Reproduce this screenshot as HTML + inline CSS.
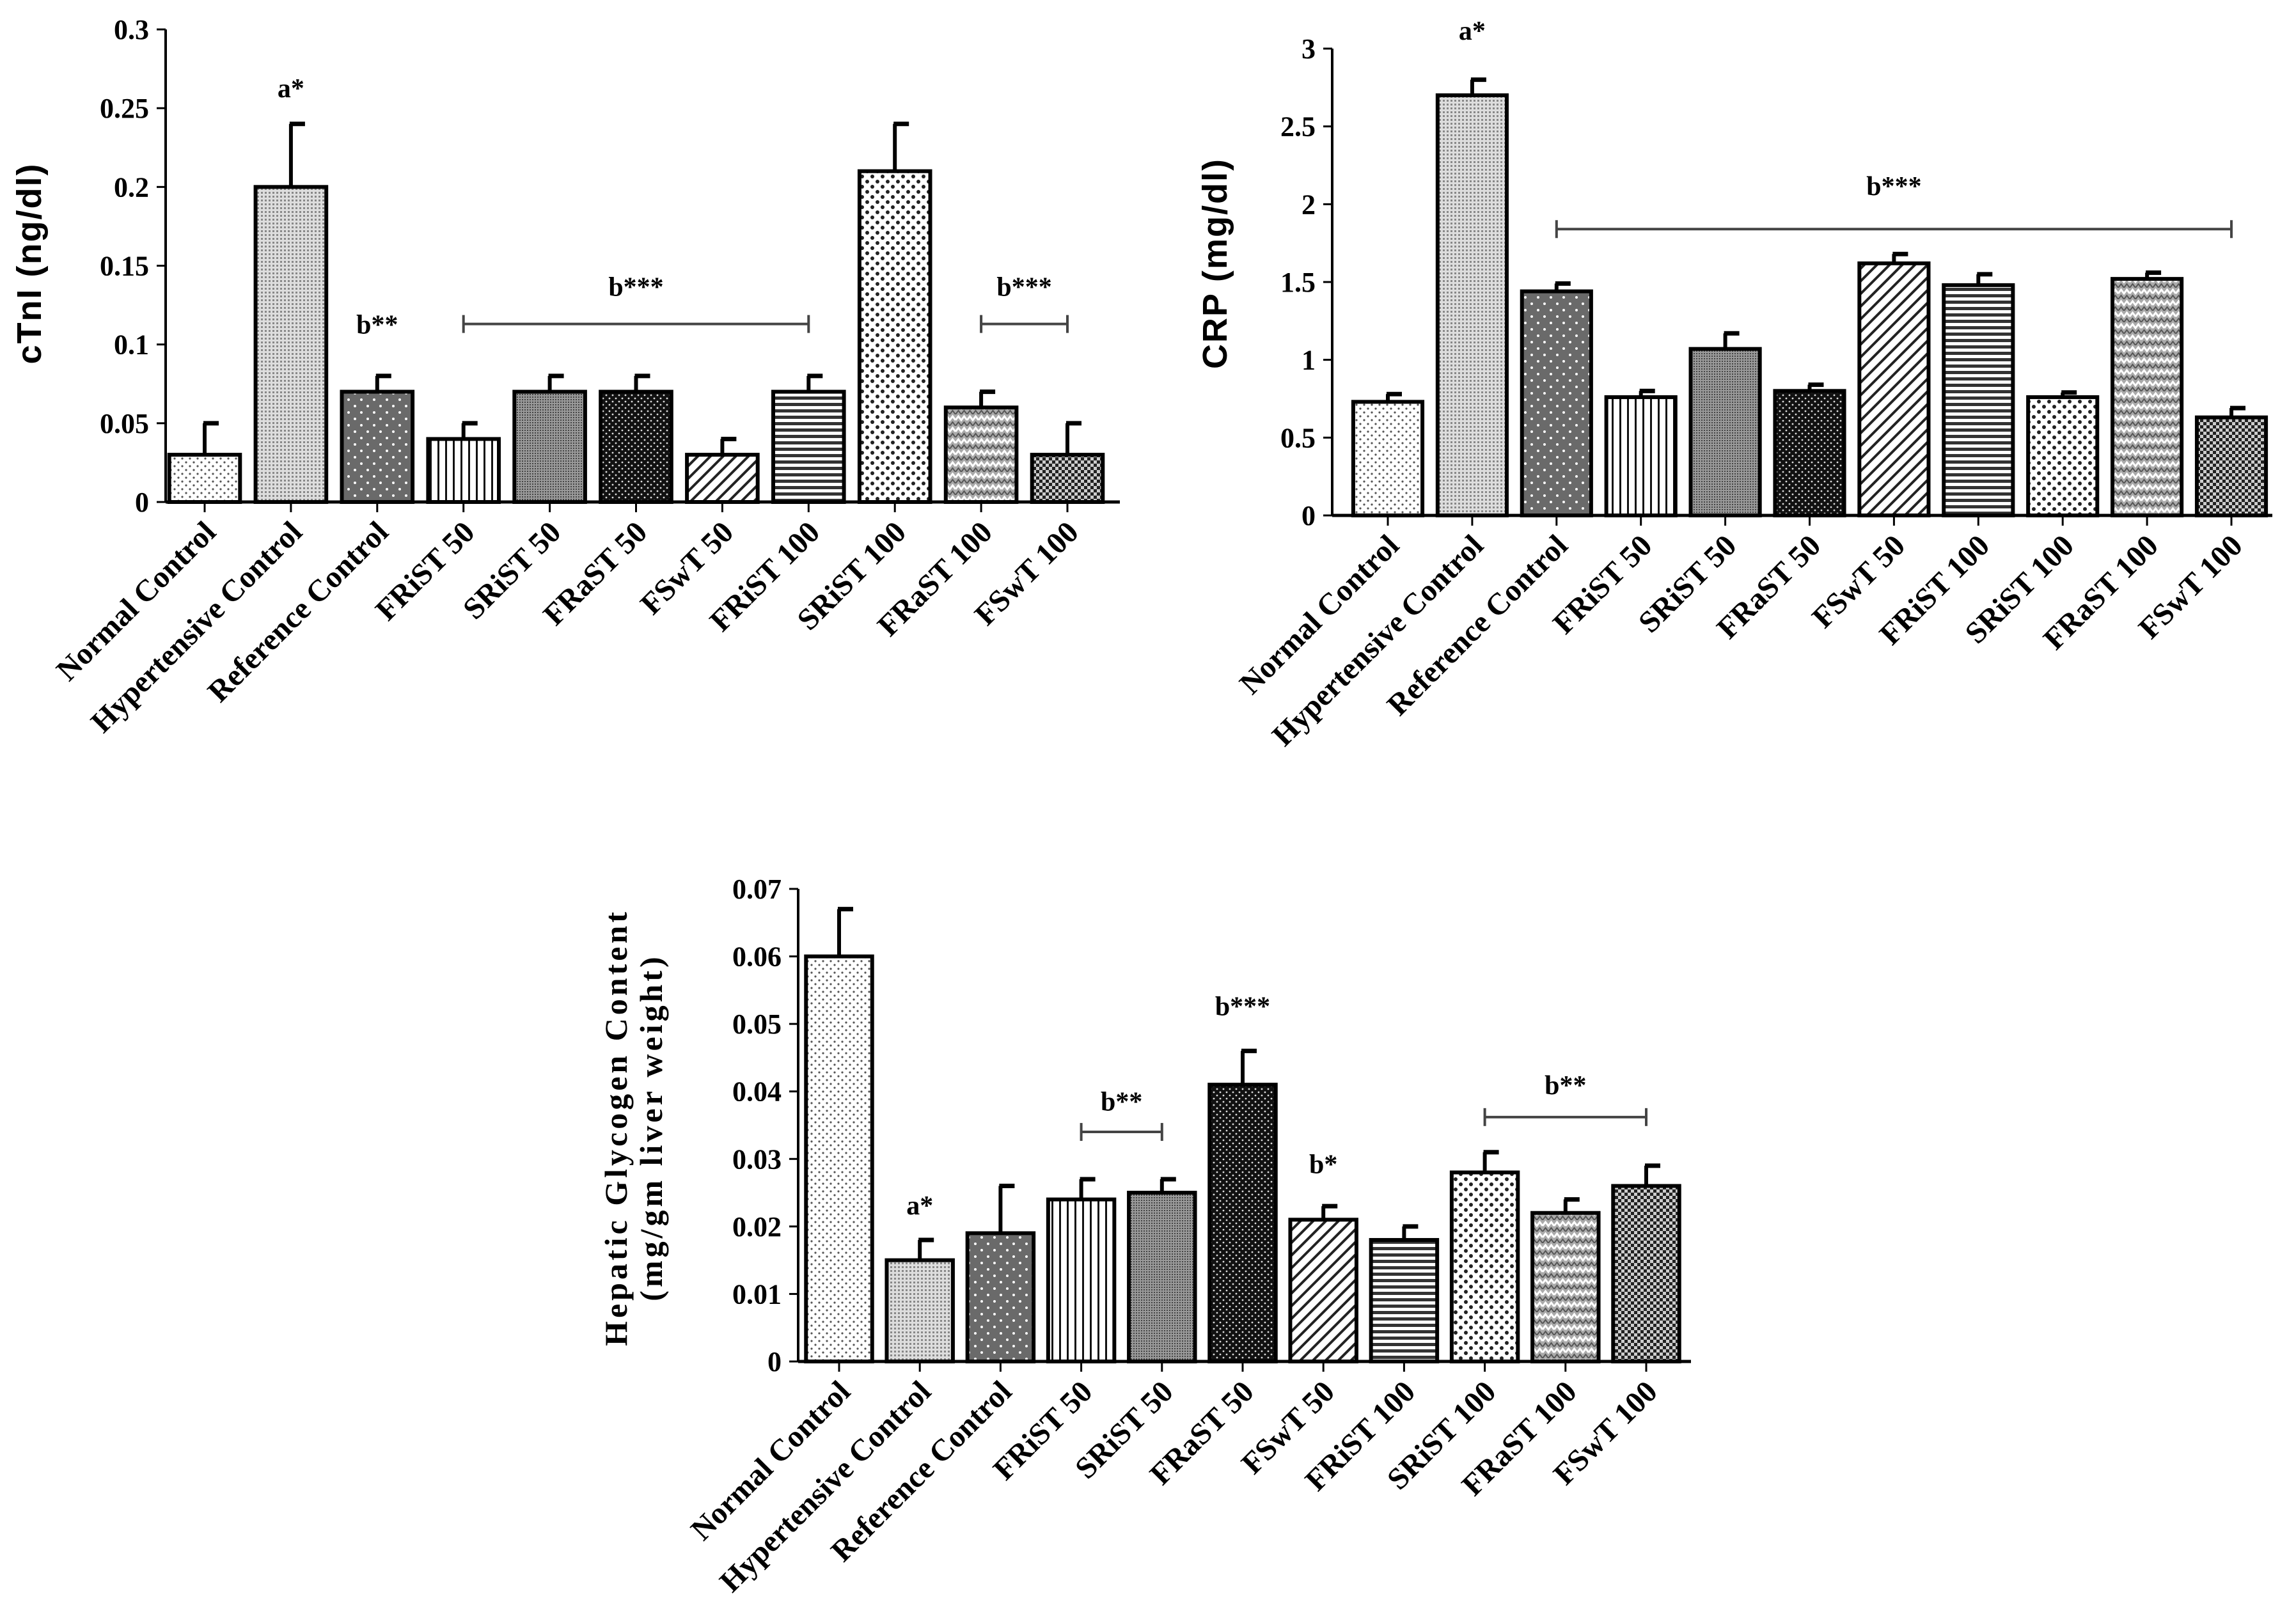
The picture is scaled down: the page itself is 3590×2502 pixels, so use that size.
<!DOCTYPE html>
<html><head><meta charset="utf-8"><style>
html,body{margin:0;padding:0;background:#fff;}
svg{display:block;font-family:"Liberation Serif",serif;font-weight:bold;}
</style></head><body>
<svg id="s" width="3590" height="2502" viewBox="0 0 3590 2502" xmlns="http://www.w3.org/2000/svg">
<defs>
<pattern id="p0" width="12" height="12" patternUnits="userSpaceOnUse"><rect width="12" height="12" fill="#fff"/><circle cx="3" cy="3" r="1.6" fill="#555"/><circle cx="9" cy="9" r="1.6" fill="#555"/></pattern>
<pattern id="p1" width="6" height="6" patternUnits="userSpaceOnUse"><rect width="6" height="6" fill="#ddd"/><rect width="3" height="3" fill="#888"/></pattern>
<pattern id="p2" width="20" height="20" patternUnits="userSpaceOnUse"><rect width="20" height="20" fill="#6a6a6a"/><circle cx="5" cy="5" r="2" fill="#fff"/><circle cx="15" cy="15" r="2" fill="#fff"/></pattern>
<pattern id="p3" width="12" height="12" patternUnits="userSpaceOnUse"><rect width="12" height="12" fill="#fff"/><rect x="0" width="3" height="12" fill="#111"/></pattern>
<pattern id="p4" width="4" height="4" patternUnits="userSpaceOnUse"><rect width="4" height="4" fill="#999"/><rect width="2" height="2" fill="#444"/></pattern>
<pattern id="p5" width="10" height="10" patternUnits="userSpaceOnUse"><rect width="10" height="10" fill="#111"/><circle cx="3" cy="3" r="1.4" fill="#ddd"/><circle cx="8" cy="8" r="1.4" fill="#ddd"/></pattern>
<pattern id="p6" width="14" height="14" patternUnits="userSpaceOnUse" patternTransform="rotate(45)"><rect width="14" height="14" fill="#fff"/><rect width="4" height="14" fill="#222"/></pattern>
<pattern id="p7" width="10" height="10" patternUnits="userSpaceOnUse"><rect width="10" height="10" fill="#fff"/><rect width="10" height="5" fill="#333"/></pattern>
<pattern id="p8" width="16" height="16" patternUnits="userSpaceOnUse"><rect width="16" height="16" fill="#fff"/><circle cx="4" cy="4" r="3" fill="#222"/><circle cx="12" cy="12" r="3" fill="#222"/></pattern>
<pattern id="p9" width="18" height="18" patternUnits="userSpaceOnUse"><rect width="18" height="18" fill="#aaa"/><path d="M0 9 L4.5 3 L9 9 L13.5 3 L18 9" stroke="#fff" stroke-width="3" fill="none"/><path d="M0 18 L4.5 12 L9 18 L13.5 12 L18 18" stroke="#555" stroke-width="2" fill="none"/></pattern>
<pattern id="p10" width="10" height="10" patternUnits="userSpaceOnUse"><rect width="10" height="10" fill="#222"/><rect width="5" height="5" fill="#ccc"/><rect x="5" y="5" width="5" height="5" fill="#ccc"/></pattern>
</defs>
</svg>
<script>
const categories = ["Normal Control","Hypertensive Control","Reference Control","FRiST 50","SRiST 50","FRaST 50","FSwT 50","FRiST 100","SRiST 100","FRaST 100","FSwT 100"];
const ctniValues = [0.03,0.2,0.07,0.04,0.07,0.07,0.03,0.07,0.21,0.06,0.03];
const ctniErrors = [0.02,0.04,0.01,0.01,0.01,0.01,0.01,0.01,0.03,0.01,0.02];
const ctniTicks = ["0","0.05","0.1","0.15","0.2","0.25","0.3"];
const crpValues = [0.73,2.70,1.44,0.76,1.07,0.80,1.62,1.48,0.76,1.52,0.63];
const crpErrors = [0.05,0.10,0.05,0.04,0.10,0.04,0.06,0.07,0.03,0.04,0.06];
const crpTicks = ["0","0.5","1","1.5","2","2.5","3"];
const glyValues = [0.060,0.015,0.019,0.024,0.025,0.041,0.021,0.018,0.028,0.022,0.026];
const glyErrors = [0.007,0.003,0.007,0.003,0.002,0.005,0.002,0.002,0.003,0.002,0.003];
const glyTicks = ["0","0.01","0.02","0.03","0.04","0.05","0.06","0.07"];

const NS="http://www.w3.org/2000/svg";
const svg=document.getElementById('s');
function mk(tag,attrs,parent){const e=document.createElementNS(NS,tag);for(const k in attrs)e.setAttribute(k,attrs[k]);(parent||svg).appendChild(e);return e;}

function drawChart(c){
  const g=mk('g',{});
  
  
  const ymax=parseFloat(c.ticks[c.ticks.length-1]);
  const y=v=>c.y0-(v/ymax)*(c.y0-c.ytop);
  const x=i=>c.x1+i*c.pitch;
  const bw=c.pitch*0.82;
  c.values.forEach((v,i)=>{
    const top=v+c.errors[i];
    const eb=mk('line',{x1:x(i),x2:x(i),y1:y(v),y2:y(top),stroke:'#000','stroke-width':6},g);
    
    
    const cap=mk('line',{x1:x(i)-2,x2:x(i)+22,y1:y(top),y2:y(top),stroke:'#000','stroke-width':7},g);
    
    
    const r=mk('rect',{x:x(i)-bw/2,y:y(v),width:bw,height:c.y0-y(v),fill:'url(#p'+i+')',stroke:'#000','stroke-width':6},g);
    
    
  });
  const ya=mk('line',{x1:c.ax,x2:c.ax,y1:c.ytop,y2:c.y0,stroke:'#000','stroke-width':4},g);
  
  
  const xa=mk('line',{x1:c.ax,x2:c.xend,y1:c.y0,y2:c.y0,stroke:'#000','stroke-width':5},g);
  
  
  c.ticks.forEach(t=>{
    const yy=y(parseFloat(t));
    mk('line',{x1:c.ax-14,x2:c.ax,y1:yy,y2:yy,stroke:'#000','stroke-width':3},g);
    const tx=mk('text',{x:c.ax-26,y:yy+15,'text-anchor':'end','font-size':44},g);
    tx.textContent=t;
    
    
  });
  categories.forEach((n,i)=>{
    mk('line',{x1:x(i),x2:x(i),y1:c.y0,y2:c.y0+16,stroke:'#000','stroke-width':3},g);
    const tx=mk('text',{x:0,y:0,'text-anchor':'end','font-size':48,transform:`translate(${x(i)+20},${c.y0+50}) rotate(-45)`},g);
    tx.textContent=n;
    
    
  });
  c.title.forEach((t,k)=>{
    const tx=mk('text',{x:0,y:0,'text-anchor':'middle','font-size':c.tsize,'font-family':c.tfont,'letter-spacing':c.tls,transform:`translate(${c.tx+k*c.tsize*1.1},${c.ty}) rotate(-90)`},g);
    tx.textContent=t;
    
    
  });
  c.notes.forEach(n=>{
    if(n.b!==undefined){
      const bl=mk('line',{x1:x(n.a),x2:x(n.b),y1:y(n.ly),y2:y(n.ly),stroke:'#444','stroke-width':4},g);
      
      
      mk('line',{x1:x(n.a),x2:x(n.a),y1:y(n.ly)-14,y2:y(n.ly)+14,stroke:'#444','stroke-width':4},g);
      mk('line',{x1:x(n.b),x2:x(n.b),y1:y(n.ly)-14,y2:y(n.ly)+14,stroke:'#444','stroke-width':4},g);
    }
    const cx=n.b!==undefined?(x(n.a)+x(n.b))/2:x(n.a);
    const tx=mk('text',{x:cx,y:y(n.ty)+15,'text-anchor':'middle','font-size':42},g);
    tx.textContent=n.t;
    
    
  });
}

drawChart({name:'ctni-chart',values:ctniValues,errors:ctniErrors,ticks:ctniTicks,ax:259,xend:1751,y0:785,ytop:46,x1:320,pitch:134.9,
  title:['cTnI (ng/dl)'],tx:64,ty:412,tsize:54,tfont:'"Liberation Sans",sans-serif',tls:2,
  notes:[{a:1,t:'a*',ty:0.263},{a:2,t:'b**',ty:0.113},{a:3,b:7,ly:0.113,t:'b***',ty:0.137},{a:9,b:10,ly:0.113,t:'b***',ty:0.137}]});
drawChart({name:'crp-chart',values:crpValues,errors:crpErrors,ticks:crpTicks,ax:2083,xend:3553,y0:806,ytop:76,x1:2170,pitch:131.9,
  title:['CRP (mg/dl)'],tx:1918,ty:412,tsize:54,tfont:'"Liberation Sans",sans-serif',tls:2,
  notes:[{a:1,t:'a*',ty:3.12},{a:2,b:10,ly:1.84,t:'b***',ty:2.12}]});
drawChart({name:'glycogen-chart',values:glyValues,errors:glyErrors,ticks:glyTicks,ax:1248,xend:2644,y0:2129,ytop:1390,x1:1312,pitch:126.2,
  title:['Hepatic Glycogen Content','(mg/gm liver weight)'],tx:980,ty:1763,tsize:50,tfont:'"Liberation Serif",serif',tls:5,
  notes:[{a:1,t:'a*',ty:0.0232},{a:3,b:4,ly:0.034,t:'b**',ty:0.0386},{a:5,t:'b***',ty:0.0527},{a:6,t:'b*',ty:0.0293},{a:8,b:10,ly:0.0362,t:'b**',ty:0.041}]});
</script>
</body></html>
